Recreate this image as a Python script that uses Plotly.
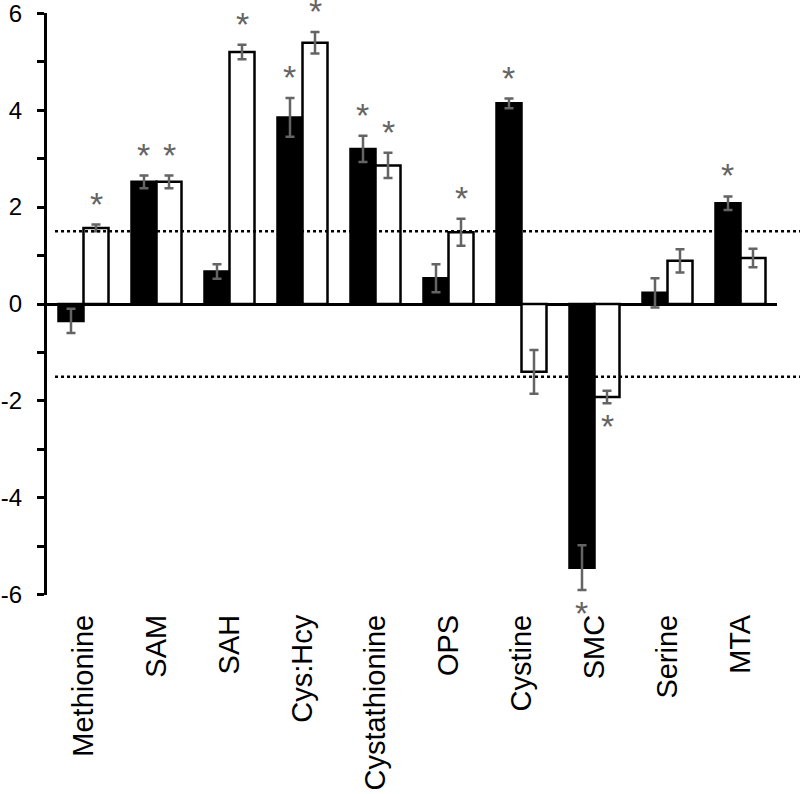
import plotly.graph_objects as go

categories = ["Methionine", "SAM", "SAH", "Cys:Hcy", "Cystathionine",
              "OPS", "Cystine", "SMC", "Serine", "MTA"]
black_vals = [-0.35, 2.52, 0.67, 3.85, 3.20, 0.53, 4.14, -5.44, 0.23, 2.08]
black_err = [0.25, 0.13, 0.15, 0.40, 0.27, 0.29, 0.10, 0.46, 0.30, 0.14]
white_vals = [1.57, 2.52, 5.20, 5.39, 2.86, 1.48, -1.40, -1.92, 0.89, 0.95]
white_err = [0.07, 0.13, 0.15, 0.22, 0.26, 0.28, 0.45, 0.13, 0.24, 0.19]
black_sig = [False, True, False, True, True, False, True, True, False, True]
white_sig = [True, True, True, True, True, True, False, True, False, False]
thresholds = [1.5, -1.5]
y_ticks = list(range(-6, 7))
y_tick_labels = [str(v) if v % 2 == 0 else "" for v in y_ticks]

FONT = "Arial, Liberation Sans, sans-serif"
ERR_COLOR = "#646464"
W, H = 800, 794
ML, MR, MT, MB = 47, 23, 13, 199
BARGAP = 0.315
plot_w = W - ML - MR
bar_px = plot_w / len(categories) * (1 - BARGAP) / 2

fig = go.Figure()
for vals, errs, fill in [(black_vals, black_err, "black"), (white_vals, white_err, "white")]:
    fig.add_trace(go.Bar(
        x=categories, y=vals,
        marker=dict(color=fill, line=dict(color="black", width=2.5)),
        error_y=dict(type="data", array=errs, visible=True, color=ERR_COLOR,
                     thickness=2.5, width=4.5),
        showlegend=False,
    ))

annotations = []
for vals, errs, sig, shift in [(black_vals, black_err, black_sig, -bar_px / 2),
                               (white_vals, white_err, white_sig, bar_px / 2)]:
    for c, v, e, s in zip(categories, vals, errs, sig):
        if not s:
            continue
        if v >= 0:
            y, ys = v + e, 21
        else:
            y, ys = v - e, -23
        annotations.append(dict(x=c, y=y, xref="x", yref="y", text="*",
                                showarrow=False, xshift=shift, yshift=ys,
                                yanchor="middle",
                                font=dict(family=FONT, size=34, color=ERR_COLOR)))

shapes = [dict(type="line", xref="paper", yref="y", x0=0.011, x1=1.04,
               y0=t, y1=t, layer="above",
               line=dict(color="black", width=2.5, dash="dot"))
          for t in thresholds]

fig.update_layout(
    width=W, height=H,
    margin=dict(l=ML, r=MR, t=MT, b=MB),
    plot_bgcolor="white", paper_bgcolor="white",
    barmode="group", bargap=BARGAP, bargroupgap=0,
    font=dict(family=FONT, color="black"),
    annotations=annotations, shapes=shapes,
    xaxis=dict(showline=False, showgrid=False, ticks="", tickangle=-90,
               tickfont=dict(size=29, family=FONT, color="black"),
               ticklabelstandoff=13,
               zeroline=False, automargin=False),
    yaxis=dict(range=[-6.004, 6.004], tickvals=y_ticks, ticktext=y_tick_labels,
               showline=True, linecolor="black", linewidth=3,
               ticks="outside", ticklen=7, tickwidth=3, tickcolor="black",
               ticklabelstandoff=10, ticklabeloverflow="allow",
               automargin=False,
               showgrid=False, zeroline=True, zerolinecolor="black",
               zerolinewidth=3,
               tickfont=dict(size=24, family=FONT, color="black")),
)

fig.write_html("out.html",
               config={"displayModeBar": False},
               post_script="document.body.style.margin='0';"
                           "document.body.style.overflow='hidden';")
